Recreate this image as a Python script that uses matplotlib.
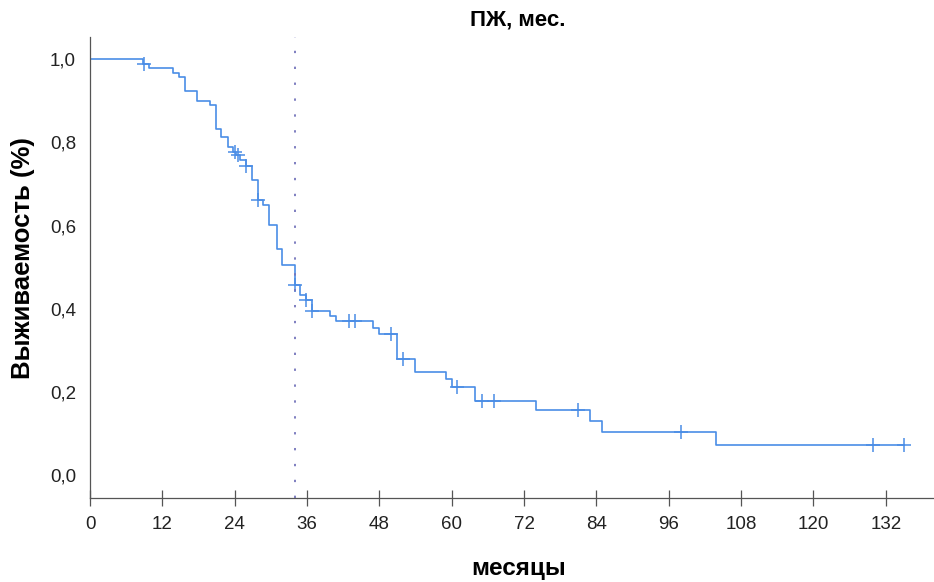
import numpy as np
import matplotlib
matplotlib.use('Agg')
import matplotlib.pyplot as plt
import matplotlib.ticker as mticker

# Kaplan-Meier steps (months, survival after the drop)
event_t = [0, 8.8, 9.8, 13.8, 14.8, 15.75, 17.7, 19.9, 20.9, 21.8, 22.9, 23.7, 24.3,
           24.9, 25.9, 26.8, 27.8, 28.7, 29.7, 31.0, 31.9, 34.0, 34.9, 35.8, 36.8,
           39.8, 40.8, 46.9, 47.9, 50.9, 53.9, 59.0, 60.0, 63.8, 74.0, 82.9, 84.9,
           103.9, 135.0]
surv = [1.0, 0.989, 0.979, 0.967, 0.957, 0.923, 0.900, 0.889, 0.833, 0.812, 0.790, 0.778, 0.770,
        0.757, 0.744, 0.710, 0.662, 0.650, 0.602, 0.544, 0.506, 0.458, 0.434, 0.420, 0.395,
        0.383, 0.370, 0.354, 0.340, 0.280, 0.247, 0.231, 0.213, 0.179, 0.156, 0.131, 0.105,
        0.072, 0.072]
# censored observations
cens_t = [8.95, 24.0, 24.6, 25.95, 27.85, 34.05, 35.85, 36.85, 43.0, 43.9, 49.9, 51.9,
          60.9, 65.0, 67.0, 81.0, 98.0, 129.9, 135.0]
median_t = 34.0

xticks = list(range(0, 133, 12))
yticks = [0.0, 0.2, 0.4, 0.6, 0.8, 1.0]

line_col = '#4a8de6'

fig = plt.figure(figsize=(9.34, 5.82), dpi=100)
ax = fig.add_axes([90/934, 84.3/582, 844/934, 461/582])

ax.step(event_t, surv, where='post', color=line_col, lw=1.2)
cens_s = [surv[np.searchsorted(event_t, c, side='right') - 1] for c in cens_t]
ax.plot(cens_t, cens_s, linestyle='none', marker='+', ms=10, mew=1.1, color=line_col)

ax.axvline(median_t, color='#7474bb', lw=1.3, linestyle=(0, (1.3, 7.5)))

ax.set_xlim(0, 140)
ax.set_ylim(-0.054, 1.054)
for s in ['top', 'right']:
    ax.spines[s].set_visible(False)
for s in ['left', 'bottom']:
    ax.spines[s].set_color('#555555')
    ax.spines[s].set_linewidth(0.9)

tick_font = ['Liberation Sans Narrow', 'Liberation Sans']
ax.set_xticks(xticks)
ax.set_yticks(yticks)
ax.yaxis.set_major_formatter(mticker.FuncFormatter(lambda v, p: ('%.1f' % v).replace('.', ',')))
ax.tick_params(axis='x', direction='inout', length=11, width=0.9, color='#555555',
               labelsize=13.5, labelcolor='#222222', pad=8)
ax.tick_params(axis='y', length=0, labelsize=13.5, labelcolor='#222222', pad=10)
for lab in ax.get_xticklabels() + ax.get_yticklabels():
    lab.set_family(tick_font)

fig.text(518/934, 1 - 20/582, 'ПЖ, мес.', ha='center', va='center',
         fontsize=16, fontweight='bold', family='Liberation Sans')
fig.text(519/934, 1 - 568/582, 'месяцы', ha='center', va='center',
         fontsize=17.5, fontweight='bold', family='Liberation Sans')
fig.text(23/934, 1 - 258/582, 'Выживаемость (%)', ha='center', va='center', rotation=90,
         fontsize=18.5, fontweight='bold', family='Liberation Sans')

fig.savefig('out.png', dpi=100)
